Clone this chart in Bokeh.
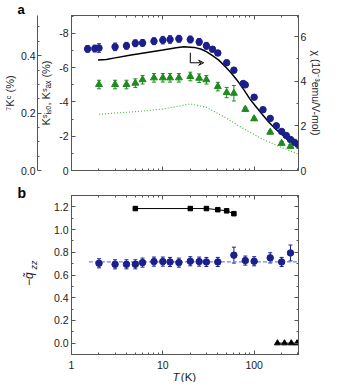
import math
from bokeh.plotting import figure
from bokeh.models import (Range1d, LinearAxis, LogAxis, FixedTicker, Whisker, TeeHead,
                          ColumnDataSource, Label, Arrow, VeeHead, PrintfTickFormatter,
                          CustomJSTickFormatter)
from bokeh.layouts import column
from bokeh.embed import file_html
from bokeh.resources import INLINE

# ---------------- data: panel a ----------------
T_iso = [1.5, 1.8, 2, 3, 4, 5, 6, 8, 10, 12, 15, 20, 25, 30, 35, 40, 50, 60, 76, 80,
         100, 125, 150, 175, 200, 225, 250, 275, 300]
K_iso = [-7.10, -7.12, -7.15, -7.22, -7.28, -7.43, -7.45, -7.55, -7.61, -7.65, -7.69, -7.65,
         -7.51, -7.28, -7.08, -6.86, -6.29, -5.86, -5.08, -5.00, -4.28, -3.55, -3.04, -2.61,
         -2.28, -2.04, -1.81, -1.65, -1.53]
K_iso_err = [0.2, 0.2, 0.25, 0.22, 0.2, 0.2, 0.2, 0.2, 0.22, 0.22, 0.2, 0.2, 0.2, 0.2, 0.15,
             0.15, 0.15, 0.15, 0.1, 0.1, 0.08, 0.08, 0.08, 0.08, 0.08, 0.08, 0.08, 0.08, 0.08]

T_ax = [2, 3, 4, 5, 6, 8, 10, 12, 15, 20, 25, 30, 40, 50, 60, 80, 100, 150, 200, 250]
K_ax = [-5.02, -5.02, -5.02, -5.10, -5.30, -5.41, -5.41, -5.41, -5.41, -5.49, -5.39, -5.30,
        -4.90, -4.55, -4.51, -3.57, -3.02, -2.24, -1.59, -1.41]
K_ax_err = [0.25, 0.25, 0.25, 0.25, 0.25, 0.25, 0.25, 0.25, 0.25, 0.25, 0.25, 0.25, 0.25,
            0.3, 0.45, 0.12, 0.1, 0.1, 0.1, 0.1]

T_chi = [1.95, 2.4, 3, 4.5, 7, 10, 14, 17, 22, 26, 30, 35, 41, 50, 57, 65, 78, 90, 106,
         125, 145, 170, 200, 240, 300]
chi = [4.95, 4.98, 5.05, 5.18, 5.30, 5.40, 5.50, 5.55, 5.52, 5.45, 5.33, 5.15, 4.95, 4.60,
       4.34, 4.05, 3.59, 3.20, 2.84, 2.48, 2.16, 1.88, 1.63, 1.32, 1.05]

T_kc = [2, 5, 10, 20, 30, 48, 78, 124, 200, 300]
K_c = [0.196, 0.205, 0.214, 0.232, 0.220, 0.185, 0.144, 0.109, 0.080, 0.058]

ARROW_T = [20, 20, 28]
ARROW_CHI = [5.28, 4.83, 4.83]

# ---------------- data: panel b ----------------
T_q = [2, 3, 4, 5, 6, 8, 10, 12, 15, 20, 25, 30, 40, 60, 80, 100, 150, 200, 250]
q = [0.703, 0.694, 0.694, 0.694, 0.709, 0.718, 0.718, 0.715, 0.709, 0.721, 0.718, 0.715,
     0.715, 0.775, 0.727, 0.721, 0.751, 0.715, 0.794]
q_err = [0.04, 0.04, 0.04, 0.04, 0.04, 0.04, 0.04, 0.04, 0.04, 0.04, 0.04, 0.04, 0.04,
         0.07, 0.04, 0.04, 0.045, 0.04, 0.07]
Q_FIT = 0.715
T_FIT = [1.55, 306]

T_sq = [5, 20, 30, 40, 50, 60]
q_sq = [1.185, 1.185, 1.185, 1.175, 1.165, 1.14]

T_tri = [180, 215, 255, 295]
q_tri = [0.0, 0.0, 0.0, 0.0]

X_MAJOR = [1, 10, 100]
X_MINOR = [2, 3, 4, 5, 6, 7, 8, 9, 20, 30, 40, 50, 60, 70, 80, 90, 200, 300]

FONT = "Liberation Sans"
BLUE = "#1a1f8c"
GREEN = "#1f8a1f"
LGREEN = "#46b946"
LBLUE = "#6f86ee"
FRAME = "#555555"
TXT = "#222222"

X_MAX = 306
A_Y = (0, -9.05)
B_Y = (-0.1, 1.3)

# layout (canvas pixels)
W = 325
BL, BR = 63, 22
A_HT, A_TOP, A_BOT = 182, 12, 12
B_HT, B_TOP, B_BOT = 200, 13, 28

# free-standing label anchors (pixels) and
# converted to data coordinates through the reference's own axis geometry
REF_X0, REF_DEC = 69.5, 97.3
LH_SHIFT = 0.46  # offset (in font sizes) caused by the compact label line height


def x_ref(px):
    return 10 ** ((px - REF_X0) / REF_DEC)


def ka_ref(py):
    return -(172.7 - py) / 17.0


def qb_ref(py):
    return 1.2 - (py - 207.3) / 110.0


def style_axis(ax, labels=True):
    ax.major_tick_in = 4
    ax.major_tick_out = 0
    ax.minor_tick_in = 2
    ax.minor_tick_out = 0
    ax.axis_line_color = FRAME
    ax.major_tick_line_color = FRAME
    ax.minor_tick_line_color = FRAME
    ax.major_label_text_font = FONT
    ax.major_label_text_font_size = "10.5px" if labels else "1px"
    ax.major_label_text_color = TXT
    ax.axis_label_text_font = FONT
    ax.axis_label_text_font_size = "11px"
    ax.axis_label_text_font_style = "normal"
    ax.axis_label_text_color = TXT
    ax.major_label_standoff = 3 if labels else 0
    ax.axis_label_standoff = 3
    if not labels:
        ax.formatter = CustomJSTickFormatter(code="return ''")


def xaxes(p, labels_bottom):
    for loc in ("below", "above"):
        ax = LogAxis(ticker=FixedTicker(ticks=X_MAJOR, minor_ticks=X_MINOR),
                     formatter=PrintfTickFormatter(format="%d"))
        style_axis(ax, labels=(loc == "below" and labels_bottom))
        if loc == "below" and labels_bottom:
            ax.major_label_standoff = 6
        p.add_layout(ax, loc)


def free_label(p, side, text, x, y, size=12, style="normal", angle=0.0):
    p.add_layout(Label(x=x, y=y, text=text, angle=angle,
                       text_font=FONT, text_font_style=style, text_font_size=f"{size}px",
                       text_line_height=0.2,
                       text_color=TXT if style != "bold" else "black",
                       text_align="left", text_baseline="alphabetic"), side)


# ---------------- panel a ----------------
pa = figure(width=W, height=A_HT, x_axis_type="log", x_range=Range1d(1, X_MAX),
            y_range=Range1d(*A_Y), x_axis_location=None, y_axis_location=None,
            output_backend="svg", toolbar_location=None,
            min_border_left=BL, min_border_right=BR, min_border_top=A_TOP, min_border_bottom=A_BOT)
pa.extra_y_ranges = {"kc": Range1d(0, 0.54), "chi": Range1d(0, 6.95)}
pa.grid.visible = False
pa.outline_line_color = FRAME
pa.background_fill_color = "white"
pa.border_fill_color = "white"

ax_k = LinearAxis(ticker=FixedTicker(ticks=[0, -2, -4, -6, -8], minor_ticks=[-1, -3, -5, -7, -9]),
                  formatter=PrintfTickFormatter(format="%d"), axis_label="Kˢᵢₛₒ, Kˢₐₓ (%)")
style_axis(ax_k)
ax_k.axis_label_standoff = 4
pa.add_layout(ax_k, "left")

ax_kc = LinearAxis(y_range_name="kc",
                   ticker=FixedTicker(ticks=[0, 0.2, 0.4],
                                      minor_ticks=[0.05, 0.1, 0.15, 0.25, 0.3, 0.35, 0.45, 0.5]),
                   formatter=PrintfTickFormatter(format="%.1f"), axis_label="⁷Kᶜ (%)")
style_axis(ax_kc)
ax_kc.major_label_standoff = 2
ax_kc.axis_label_standoff = 2
pa.add_layout(ax_kc, "left")

ax_chi = LinearAxis(y_range_name="chi", ticker=FixedTicker(ticks=[0, 2, 4, 6], minor_ticks=[1, 3, 5]),
                    formatter=PrintfTickFormatter(format="%d"), axis_label="χ (10⁻³emu/V-mol)")
style_axis(ax_chi)
ax_chi.major_label_standoff = 2
ax_chi.axis_label_standoff = 1
ax_chi.axis_label_text_font_size = "10.5px"
pa.add_layout(ax_chi, "right")
xaxes(pa, labels_bottom=False)

pa.line(T_kc, K_c, y_range_name="kc", line_color=LGREEN, line_width=1.2, line_dash="1 2")
pa.line(T_chi, chi, y_range_name="chi", line_color="black", line_width=1.5)
pa.line(ARROW_T[:2], ARROW_CHI[:2], y_range_name="chi", line_color="black", line_width=1)
pa.add_layout(Arrow(end=VeeHead(size=5, line_color="black", line_width=1, fill_color=None),
                    x_start=ARROW_T[1], y_start=ARROW_CHI[1], x_end=ARROW_T[2], y_end=ARROW_CHI[2],
                    y_range_name="chi", line_color="black", line_width=1))

src_iso = ColumnDataSource(dict(T=T_iso, K=K_iso,
                                lo=[k - e for k, e in zip(K_iso, K_iso_err)],
                                hi=[k + e for k, e in zip(K_iso, K_iso_err)]))
src_ax = ColumnDataSource(dict(T=T_ax, K=K_ax,
                               lo=[k - e for k, e in zip(K_ax, K_ax_err)],
                               hi=[k + e for k, e in zip(K_ax, K_ax_err)]))
for src, col in ((src_iso, BLUE), (src_ax, GREEN)):
    pa.add_layout(Whisker(source=src, base="T", lower="lo", upper="hi", line_color=col, line_width=1,
                          lower_head=TeeHead(size=4, line_color=col, line_width=1),
                          upper_head=TeeHead(size=4, line_color=col, line_width=1)))
pa.scatter("T", "K", source=src_iso, marker="circle", size=6.5, fill_color=BLUE, line_color=BLUE)
pa.scatter("T", "K", source=src_ax, marker="triangle", size=7, fill_color=GREEN, line_color=GREEN)

free_label(pa, "above", "a", x_ref(12), ka_ref(18.5 - LH_SHIFT * 13), size=13, style="bold")

# ---------------- panel b ----------------
pb = figure(width=W, height=B_HT, x_axis_type="log", x_range=Range1d(1, X_MAX),
            y_range=Range1d(*B_Y), x_axis_location=None, y_axis_location=None,
            output_backend="svg", toolbar_location=None,
            min_border_left=BL, min_border_right=BR, min_border_top=B_TOP, min_border_bottom=B_BOT)
pb.grid.visible = False
pb.outline_line_color = FRAME
pb.background_fill_color = "white"
pb.border_fill_color = "white"

ax_q = LinearAxis(ticker=FixedTicker(ticks=[0, 0.2, 0.4, 0.6, 0.8, 1.0, 1.2],
                                     minor_ticks=[-0.1, 0.1, 0.3, 0.5, 0.7, 0.9, 1.1, 1.3]),
                  formatter=PrintfTickFormatter(format="%.1f"))
style_axis(ax_q)
pb.add_layout(ax_q, "left")
ax_qr = LinearAxis(ticker=FixedTicker(ticks=[0, 0.2, 0.4, 0.6, 0.8, 1.0, 1.2],
                                      minor_ticks=[-0.1, 0.1, 0.3, 0.5, 0.7, 0.9, 1.1, 1.3]))
style_axis(ax_qr, labels=False)
pb.add_layout(ax_qr, "right")
xaxes(pb, labels_bottom=True)

pb.line(T_FIT, [Q_FIT, Q_FIT], line_color=LBLUE, line_width=1.2, line_dash="4 2")
src_q = ColumnDataSource(dict(T=T_q, q=q, lo=[v - e for v, e in zip(q, q_err)],
                              hi=[v + e for v, e in zip(q, q_err)]))
pb.add_layout(Whisker(source=src_q, base="T", lower="lo", upper="hi", line_color=BLUE, line_width=1,
                      lower_head=TeeHead(size=4, line_color=BLUE, line_width=1),
                      upper_head=TeeHead(size=4, line_color=BLUE, line_width=1)))
pb.scatter("T", "q", source=src_q, marker="circle", size=6.5, fill_color=BLUE, line_color=BLUE)
pb.line(T_sq, q_sq, line_color="black", line_width=1)
pb.scatter(T_sq, q_sq, marker="square", size=4.5, fill_color="black", line_color="black")
pb.line(T_tri, q_tri, line_color="black", line_width=1)
pb.scatter(T_tri, q_tri, marker="triangle", size=6, fill_color="black", line_color="black")

free_label(pb, "left", "b", x_ref(12), qb_ref(200 - LH_SHIFT * 14), size=14, style="bold")
free_label(pb, "left", "−q̃", x_ref(30 - LH_SHIFT * 12), qb_ref(284), size=12, style="italic",
           angle=math.pi / 2)
free_label(pb, "left", "zz", x_ref(33.5 - LH_SHIFT * 9), qb_ref(268), size=9, style="italic",
           angle=math.pi / 2)
free_label(pb, "left", "T", x_ref(177), qb_ref(377 - LH_SHIFT * 11.5), size=11.5, style="italic")
free_label(pb, "right", "(K)", x_ref(186), qb_ref(377 - LH_SHIFT * 11.5), size=11.5)

layout = column(pa, pb, spacing=0)
open("out.html", "w").write(file_html(layout, INLINE))
